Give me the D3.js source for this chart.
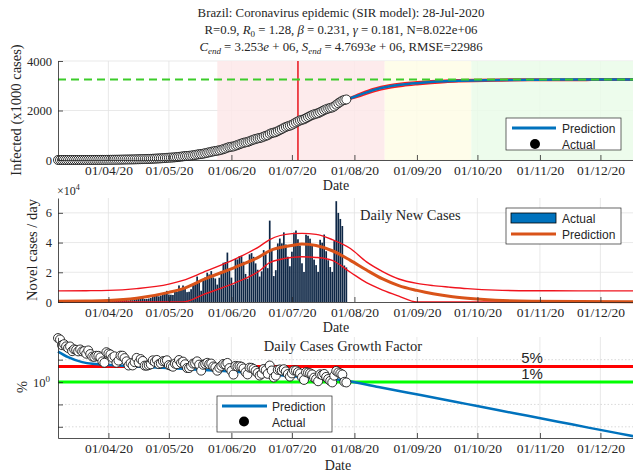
<!DOCTYPE html>
<html>
<head>
<meta charset="utf-8">
<script src="https://d3js.org/d3.v7.min.js"></script>
<style>
  body { margin: 0; background: #fff; }
  svg text { font-family: "Liberation Serif", "DejaVu Serif", serif; fill: #262626; }
  .sans { font-family: "Liberation Sans", Arial, sans-serif !important; }
  .axis path, .axis line { stroke: #262626; stroke-width: 0.8; }
</style>
</head>
<body>
<div id="chart"></div>
<script>
// ---- data ----
var firstDay = "2020-03-07";
var casesBefore = 13;
// daily new cases, 07-Mar-2020 .. 28-Jul-2020
var dailyCases = [
  12, 20, 20, 32, 38, 45, 70, 60, 90, 110, 120, 180, 190, 240, 230, 380, 330, 300, 330, 420, 480, 470, 350, 330, 1050,
  1119, 1208, 1012, 1304, 770, 1031, 1873, 2136, 1922, 1546, 1089, 1465, 1238, 1832, 3058, 2105, 3257, 2976, 1996, 2089,
  2336, 2678, 4279, 4007, 5281, 3776, 4346, 5789, 6450, 7502,
  5015, 4898, 4726, 6794, 6835, 11156, 9162, 11121, 9167, 6638, 6895, 8620, 11923, 13028, 17126, 13220, 7569, 14288,
  16517, 19694, 18508, 20803, 16508, 15813, 11687, 16324, 20599, 26417, 26928, 33274, 21000,
  16409, 11598, 28936, 28633, 30925, 30830, 27075, 18912, 15654, 32091, 32913, 30412, 25982, 21704, 17110, 20647,
  34918, 32188, 22765, 54771, 34666, 17459, 21432, 39436, 42725, 39483, 46860, 38693, 30476, 24052,
  33846, 46712, 48105, 42223, 37923, 26051, 20229, 45305, 44571, 42619, 39023, 28532, 24831, 20286, 41857, 39924,
  45403, 34177, 28084, 23529, 20257, 41008, 67860, 59961, 55891, 51147, 24578, 23284
];

var monthTicks = ["2020-04-01", "2020-05-01", "2020-06-01", "2020-07-01", "2020-08-01",
                  "2020-09-01", "2020-10-01", "2020-11-01", "2020-12-01"];

// SIR prediction of infected (x1000 cases) with bounds
var predDates = ["2020-07-28", "2020-08-04", "2020-08-11", "2020-08-18", "2020-08-25", "2020-09-01", "2020-09-08",
                 "2020-09-15", "2020-09-22", "2020-09-29", "2020-10-13", "2020-10-27", "2020-11-10", "2020-11-24",
                 "2020-12-08", "2020-12-18"];
var predInfected   = [2440, 2640, 2840, 2970, 3050, 3105, 3150, 3182, 3203, 3217, 3234, 3243, 3248, 3250, 3252, 3253];
var predInfectedHi = [2460, 2700, 2900, 3030, 3110, 3160, 3200, 3225, 3240, 3252, 3265, 3271, 3274, 3276, 3277, 3278];
var predInfectedLo = [2420, 2580, 2770, 2900, 2985, 3045, 3095, 3135, 3160, 3178, 3198, 3210, 3216, 3219, 3221, 3222];
var cEnd = 3253;

// predicted daily new cases with bounds
var newDates = ["2020-03-07", "2020-03-21", "2020-04-01", "2020-04-15", "2020-05-01", "2020-05-08", "2020-05-18",
                "2020-06-03", "2020-06-15", "2020-06-20", "2020-07-01", "2020-07-06", "2020-07-13", "2020-07-21",
                "2020-07-30", "2020-08-07", "2020-08-15", "2020-08-23", "2020-09-01", "2020-09-09", "2020-09-17",
                "2020-09-26", "2020-10-10", "2020-10-28", "2020-11-20", "2020-12-18"];
var predNew   = [500, 700, 1000, 2500, 6500, 9000, 15000, 23500, 30500, 34500, 38000, 39000, 38000, 34500, 28000,
                 21500, 15500, 11000, 7800, 5500, 3800, 2500, 1200, 500, 300, 200];
var predNewHi = [7500, 7600, 7800, 9000, 12000, 14500, 20000, 29000, 37500, 42000, 46000, 46200, 45500, 42000, 36000,
                 27000, 20500, 15500, 12500, 11000, 10000, 9000, 8000, 7600, 7500, 7500];
var predNewLo = [0, 0, 0, 0, 0, 0, 5000, 13000, 21000, 26500, 30000, 30500, 30000, 28000, 20000,
                 13000, 8000, 4000, 0, 0, 0, 0, 0, 0, 0, 0];

// predicted growth factor (%)
var growthDates = ["2020-03-07", "2020-03-12", "2020-03-19", "2020-03-24", "2020-04-15", "2020-05-01", "2020-06-01",
                   "2020-07-01", "2020-07-28", "2020-08-12", "2020-08-27", "2020-09-11", "2020-09-26", "2020-10-11",
                   "2020-10-26", "2020-11-10", "2020-11-25", "2020-12-10", "2020-12-18"];
var predGrowth = [23, 13, 7.8, 6.5, 5, 4.2, 3, 1.8, 1.14, 0.62, 0.34, 0.19, 0.103, 0.056, 0.031, 0.017, 0.0092,
                  0.0051, 0.0037];

// phases shaded in the top panel and the peak marker
var phaseStarts = ["2020-05-25", "2020-08-16", "2020-09-28", "2020-12-18"];
var phaseColors = ["#fde8e9", "#fefde6", "#eafbe9"];
var peakDay = "2020-07-04";

// ---- prepare ----
var parse = d3.timeParse("%Y-%m-%d");
var fmt = d3.timeFormat("%d/%m/%y");
var day0 = parse(firstDay);
var cum = d3.cumsum(dailyCases).map(v => v + casesBefore);
var actual = dailyCases.map(function(v, i) {
  var prev = i === 0 ? casesBefore : cum[i - 1];
  return { date: d3.timeDay.offset(day0, i), daily: v, total: cum[i] / 1000, growth: 100 * v / prev };
});
var ticks = monthTicks.map(parse);

var svgWidth = 633, svgHeight = 472;
var svg = d3.select("#chart").append("svg")
  .attr("width", svgWidth)
  .attr("height", svgHeight);

var x = d3.scaleTime()
  .domain([day0, parse("2020-12-18")])
  .range([58, 634.7]);
var xL = x.range()[0], xR = x.range()[1];

function makeLine(xs, ys, yScale) {
  return d3.line()
    .x((d, i) => x(parse(xs[i])))
    .y(d => yScale(d))
    .curve(d3.curveMonotoneX)(ys);
}

function xAxis(g, yPos) {
  g.append("g")
    .attr("class", "axis")
    .attr("transform", "translate(0," + yPos + ")")
    .call(d3.axisBottom(x).tickValues(ticks).tickFormat(fmt).tickSizeInner(-5).tickSizeOuter(0).tickPadding(5))
    .call(a => a.selectAll("text").style("font-size", "13.5px").attr("fill", "#262626"));
}

function vGrid(g, y0, y1) {
  g.selectAll(null).data(ticks).enter().append("line")
    .attr("x1", d => x(d)).attr("x2", d => x(d))
    .attr("y1", y0).attr("y2", y1)
    .attr("stroke", "#e3e3e3").attr("stroke-width", 0.8);
}

// ---- title ----
var title = svg.append("g").attr("text-anchor", "middle").style("font-size", "12.8px");
title.append("text").attr("x", 341).attr("y", 17).text("Brazil: Coronavirus epidemic (SIR model): 28-Jul-2020");
var t2 = title.append("text").attr("x", 341).attr("y", 34);
t2.append("tspan").text("R=0.9, ");
t2.append("tspan").attr("font-style", "italic").text("R");
t2.append("tspan").attr("dy", 3).style("font-size", "9px").text("0");
t2.append("tspan").attr("dy", -3).text(" = 1.28, ");
t2.append("tspan").attr("font-style", "italic").text("β");
t2.append("tspan").text(" = 0.231, ");
t2.append("tspan").attr("font-style", "italic").text("γ");
t2.append("tspan").text(" = 0.181, N=8.022e+06");
var t3 = title.append("text").attr("x", 341).attr("y", 51);
t3.append("tspan").attr("font-style", "italic").text("C");
t3.append("tspan").attr("dy", 3).attr("font-style", "italic").style("font-size", "9px").text("end");
t3.append("tspan").attr("dy", -3).text(" = 3.253");
t3.append("tspan").attr("font-style", "italic").text("e");
t3.append("tspan").text(" + 06, ");
t3.append("tspan").attr("font-style", "italic").text("S");
t3.append("tspan").attr("dy", 3).attr("font-style", "italic").style("font-size", "9px").text("end");
t3.append("tspan").attr("dy", -3).text(" = 4.7693");
t3.append("tspan").attr("font-style", "italic").text("e");
t3.append("tspan").text(" + 06, RMSE=22986");

// ---- panel 1: infected ----
var yTop = d3.scaleLinear().domain([0, 4000]).range([160, 61]);
var p1 = svg.append("g");
vGrid(p1, 61, 160);
p1.selectAll(null).data([0, 2000, 4000]).enter().append("line")
  .attr("x1", xL).attr("x2", xR).attr("y1", d => yTop(d)).attr("y2", d => yTop(d))
  .attr("stroke", "#e3e3e3").attr("stroke-width", 0.8);

// shaded phases (drawn over the grid, they are see-through)
p1.selectAll(null).data(phaseColors).enter().append("rect")
  .attr("x", (d, i) => x(parse(phaseStarts[i])))
  .attr("width", (d, i) => x(parse(phaseStarts[i + 1])) - x(parse(phaseStarts[i])))
  .attr("y", 61).attr("height", 99)
  .attr("fill", d => d).attr("opacity", 0.85);

p1.append("line")
  .attr("x1", x(parse(peakDay))).attr("x2", x(parse(peakDay)))
  .attr("y1", 61).attr("y2", 160)
  .attr("stroke", "#e8141c").attr("stroke-width", 1.5);

p1.append("path").attr("d", makeLine(predDates, predInfectedHi, yTop))
  .attr("fill", "none").attr("stroke", "#ff1a1a").attr("stroke-width", 1.6);
p1.append("path").attr("d", makeLine(predDates, predInfectedLo, yTop))
  .attr("fill", "none").attr("stroke", "#ff1a1a").attr("stroke-width", 1.6);
p1.append("path").attr("d", makeLine(predDates, predInfected, yTop))
  .attr("fill", "none").attr("stroke", "#0072BD").attr("stroke-width", 2.5);

p1.append("line")
  .attr("x1", xL).attr("x2", xR).attr("y1", yTop(cEnd)).attr("y2", yTop(cEnd))
  .attr("stroke", "#3ccc2a").attr("stroke-width", 1.8).attr("stroke-dasharray", "8,5");

p1.selectAll(null).data(actual).enter().append("circle")
  .attr("cx", d => x(d.date)).attr("cy", d => yTop(d.total)).attr("r", 4.5)
  .attr("fill", "#fff").attr("stroke", "#1a1a1a").attr("stroke-width", 0.9);

xAxis(p1, 160);
p1.append("g").attr("class", "axis").attr("transform", "translate(" + xL + ",0)")
  .call(d3.axisLeft(yTop).tickValues([0, 2000, 4000]).tickFormat(d3.format("d"))
    .tickSizeInner(-5).tickSizeOuter(0).tickPadding(6))
  .call(a => a.selectAll("text").style("font-size", "12.5px").attr("fill", "#262626"));
p1.append("text").attr("transform", "translate(21,110) rotate(-90)").attr("text-anchor", "middle")
  .style("font-size", "14.5px").text("Infected (x1000 cases)");
p1.append("text").attr("x", 336).attr("y", 190).attr("text-anchor", "middle").style("font-size", "14px").text("Date");

// legend
var l1 = p1.append("g");
l1.append("rect").attr("x", 506).attr("y", 118).attr("width", 115).attr("height", 32)
  .attr("fill", "#fff").attr("stroke", "#262626").attr("stroke-width", 0.7);
l1.append("line").attr("x1", 512).attr("x2", 556).attr("y1", 128).attr("y2", 128)
  .attr("stroke", "#0072BD").attr("stroke-width", 3);
l1.append("text").attr("class", "sans").attr("x", 562).attr("y", 133).style("font-size", "12px").text("Prediction");
l1.append("circle").attr("cx", 535).attr("cy", 144).attr("r", 5).attr("fill", "#000");
l1.append("text").attr("class", "sans").attr("x", 562).attr("y", 149).style("font-size", "12px").text("Actual");

// ---- panel 2: daily new cases ----
var yMid = d3.scaleLinear().domain([0, 70000]).range([302, 198]);
var p2 = svg.append("g");
vGrid(p2, 198, 302);
p2.selectAll(null).data([20000, 40000, 60000]).enter().append("line")
  .attr("x1", xL).attr("x2", xR).attr("y1", d => yMid(d)).attr("y2", d => yMid(d))
  .attr("stroke", "#e3e3e3").attr("stroke-width", 0.8);

p2.selectAll(null).data(actual).enter().append("rect")
  .attr("x", d => x(d.date) - 0.85).attr("width", 1.7)
  .attr("y", d => yMid(d.daily)).attr("height", d => 302 - yMid(d.daily))
  .attr("fill", "#0e2746");

p2.append("path").attr("d", makeLine(newDates, predNewHi, yMid))
  .attr("fill", "none").attr("stroke", "#f0141e").attr("stroke-width", 1.4);
p2.append("path").attr("d", makeLine(newDates, predNewLo, yMid))
  .attr("fill", "none").attr("stroke", "#f0141e").attr("stroke-width", 1.4);
p2.append("path").attr("d", makeLine(newDates, predNew, yMid))
  .attr("fill", "none").attr("stroke", "#D95319").attr("stroke-width", 3);

xAxis(p2, 302);
p2.append("g").attr("class", "axis").attr("transform", "translate(" + xL + ",0)")
  .call(d3.axisLeft(yMid).tickValues([0, 20000, 40000, 60000]).tickFormat(d => d / 10000)
    .tickSizeInner(-5).tickSizeOuter(0).tickPadding(6))
  .call(a => a.selectAll("text").style("font-size", "12.5px").attr("fill", "#262626"));
var e4 = p2.append("text").attr("x", 57).attr("y", 195).style("font-size", "12px");
e4.append("tspan").text("×10");
e4.append("tspan").attr("dy", -5).style("font-size", "8px").text("4");
p2.append("text").attr("transform", "translate(37,250) rotate(-90)").attr("text-anchor", "middle")
  .style("font-size", "14.5px").text("Novel cases / day");
p2.append("text").attr("x", 336).attr("y", 332).attr("text-anchor", "middle").style("font-size", "14px").text("Date");
p2.append("text").attr("x", 360).attr("y", 220).style("font-size", "14.5px").text("Daily New Cases");

var l2 = p2.append("g");
l2.append("rect").attr("x", 506).attr("y", 208).attr("width", 115).attr("height", 36)
  .attr("fill", "#fff").attr("stroke", "#262626").attr("stroke-width", 0.7);
l2.append("rect").attr("x", 511).attr("y", 213).attr("width", 45).attr("height", 10)
  .attr("fill", "#0072BD").attr("stroke", "#000").attr("stroke-width", 0.8);
l2.append("text").attr("class", "sans").attr("x", 562).attr("y", 223).style("font-size", "12px").text("Actual");
l2.append("line").attr("x1", 511).attr("x2", 556).attr("y1", 234).attr("y2", 234)
  .attr("stroke", "#D95319").attr("stroke-width", 3);
l2.append("text").attr("class", "sans").attr("x", 562).attr("y", 239).style("font-size", "12px").text("Prediction");

// ---- panel 3: growth factor ----
var yBot = d3.scaleLog().domain([Math.pow(10, -2.5), 100]).range([438, 337.3]);
var p3 = svg.append("g");
vGrid(p3, 337, 438);
p3.selectAll(null).data([10, 0.1, 0.01]).enter().append("line")
  .attr("x1", xL).attr("x2", xR).attr("y1", d => yBot(d)).attr("y2", d => yBot(d))
  .attr("stroke", "#d0d0d0").attr("stroke-width", 0.8).attr("stroke-dasharray", "1.5,2");

p3.append("line").attr("x1", xL).attr("x2", xR).attr("y1", yBot(5)).attr("y2", yBot(5))
  .attr("stroke", "#ff0000").attr("stroke-width", 3);
p3.append("line").attr("x1", xL).attr("x2", xR).attr("y1", yBot(1)).attr("y2", yBot(1))
  .attr("stroke", "#00ff00").attr("stroke-width", 3);
p3.append("path").attr("d", makeLine(growthDates, predGrowth, yBot))
  .attr("fill", "none").attr("stroke", "#0072BD").attr("stroke-width", 2.5);

p3.selectAll(null).data(actual).enter().append("circle")
  .attr("cx", d => x(d.date)).attr("cy", d => yBot(d.growth)).attr("r", 4.5)
  .attr("fill", "#fff").attr("stroke", "#1a1a1a").attr("stroke-width", 0.9);

xAxis(p3, 438);
p3.append("g").attr("class", "axis").attr("transform", "translate(" + xL + ",0)")
  .call(d3.axisLeft(yBot).tickValues([0.01, 0.1, 1, 10]).tickFormat(() => "")
    .tickSizeInner(-5).tickSizeOuter(0));
var t0 = p3.append("text").attr("x", 50).attr("y", 387).attr("text-anchor", "end").style("font-size", "12.5px");
t0.append("tspan").text("10");
t0.append("tspan").attr("dy", -5).style("font-size", "9px").text("0");
p3.append("text").attr("transform", "translate(27,387) rotate(-90)").attr("text-anchor", "middle")
  .style("font-size", "14.5px").text("%");
p3.append("text").attr("x", 338).attr("y", 470).attr("text-anchor", "middle").style("font-size", "14px").text("Date");
p3.append("text").attr("x", 343).attr("y", 351).attr("text-anchor", "middle").style("font-size", "14.5px")
  .text("Daily Cases Growth Factor");
p3.append("text").attr("class", "sans").attr("x", 532).attr("y", 363).attr("text-anchor", "middle")
  .style("font-size", "15px").text("5%");
p3.append("text").attr("class", "sans").attr("x", 532).attr("y", 379).attr("text-anchor", "middle")
  .style("font-size", "15px").text("1%");

var l3 = p3.append("g");
l3.append("rect").attr("x", 217).attr("y", 396).attr("width", 115).attr("height", 36)
  .attr("fill", "#fff").attr("stroke", "#262626").attr("stroke-width", 0.7);
l3.append("line").attr("x1", 222).attr("x2", 267).attr("y1", 406).attr("y2", 406)
  .attr("stroke", "#0072BD").attr("stroke-width", 3);
l3.append("text").attr("class", "sans").attr("x", 272).attr("y", 411).style("font-size", "12px").text("Prediction");
l3.append("circle").attr("cx", 244).attr("cy", 421.5).attr("r", 5).attr("fill", "#000");
l3.append("text").attr("class", "sans").attr("x", 272).attr("y", 427).style("font-size", "12px").text("Actual");
</script>
</body>
</html>
